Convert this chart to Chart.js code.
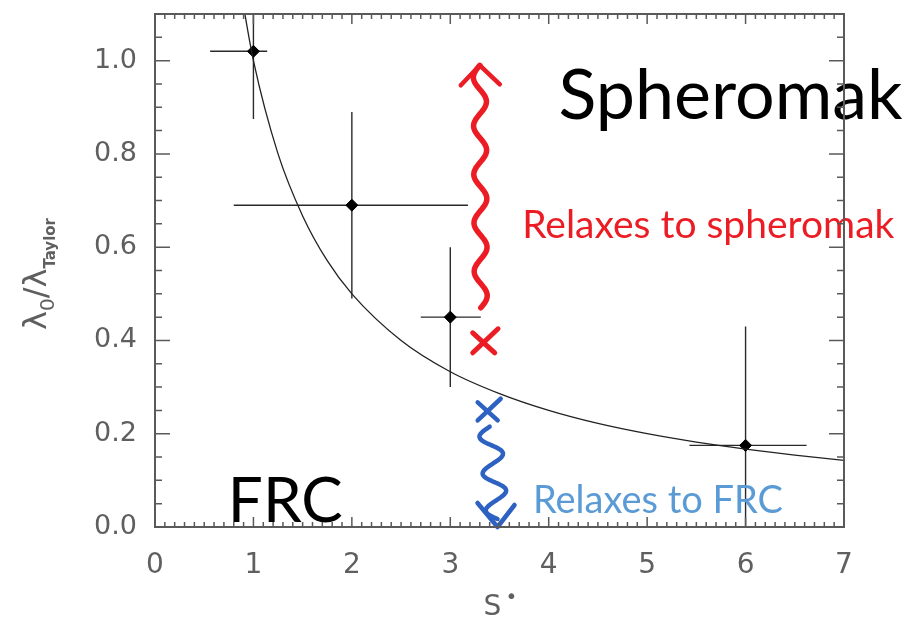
<!DOCTYPE html>
<html>
<head>
<meta charset="utf-8">
<script src="https://cdn.jsdelivr.net/npm/chart.js@4.4.0/dist/chart.umd.min.js"></script>
<style>
  html, body { margin: 0; padding: 0; background: #fff; }
</style>
</head>
<body>
<canvas id="relaxChart" width="909" height="621"></canvas>
<script>
// measured points with their error ranges
const sStar = [1, 2, 3, 6];
const lambdaRatio = [1.02, 0.69, 0.45, 0.175];
const sStarLow = [0.56, 0.80, 2.70, 5.43];
const sStarHigh = [1.14, 3.18, 3.31, 6.62];
const ratioLow = [0.875, 0.49, 0.30, -0.10];
const ratioHigh = [1.165, 0.89, 0.60, 0.43];

// model curve
const curveS = [0.88, 1.0, 1.25, 1.5, 1.75, 2.0, 2.5, 3.0, 3.5, 4.0, 4.5, 5.0, 5.5, 6.0, 6.5, 7.0];
const curveRatio = [1.14, 1.0, 0.80, 0.667, 0.571, 0.50, 0.40, 0.333, 0.286, 0.25, 0.222, 0.20, 0.182, 0.167, 0.154, 0.143];

const xTicks = [0, 1, 2, 3, 4, 5, 6, 7];
const yTicks = [0.0, 0.2, 0.4, 0.6, 0.8, 1.0];

const RED = '#ec1c24';
const BLUE = '#2e62c2';
const LIGHT_BLUE = '#5b9bd5';
const AXIS = '#5a5a5a';

function px(chart, x, y) {
    return [chart.scales.x.getPixelForValue(x), chart.scales.y.getPixelForValue(y)];
}

// error bars under the markers
const errorBars = {
    id: 'errorBars',
    beforeDatasetsDraw(chart) {
        const ctx = chart.ctx, a = chart.chartArea;
        ctx.save();
        ctx.beginPath();
        ctx.rect(a.left, a.top, a.right - a.left, a.bottom - a.top);
        ctx.clip();
        ctx.strokeStyle = '#2a2a2a';
        ctx.lineWidth = 1.4;
        for (let i = 0; i < sStar.length; i++) {
            const [x0, y0] = px(chart, sStarLow[i], lambdaRatio[i]);
            const [x1] = px(chart, sStarHigh[i], lambdaRatio[i]);
            const [xc, yLo] = px(chart, sStar[i], ratioLow[i]);
            const [, yHi] = px(chart, sStar[i], ratioHigh[i]);
            ctx.beginPath();
            ctx.moveTo(x0, y0); ctx.lineTo(x1, y0);
            ctx.moveTo(xc, yLo); ctx.lineTo(xc, yHi);
            ctx.stroke();
        }
        ctx.restore();
    }
};

// wavy hand-drawn stroke between two points in data space
function squiggle(ctx, p0, p1, amp, waves) {
    const dx = p1[0] - p0[0], dy = p1[1] - p0[1];
    const len = Math.hypot(dx, dy);
    const nx = -dy / len, ny = dx / len;
    ctx.beginPath();
    for (let k = 0; k <= 120; k++) {
        const t = k / 120;
        const off = amp * Math.sin(t * waves * 2 * Math.PI);
        const x = p0[0] + dx * t + nx * off;
        const y = p0[1] + dy * t + ny * off;
        if (k === 0) ctx.moveTo(x, y); else ctx.lineTo(x, y);
    }
    ctx.stroke();
}

function cross(ctx, c, w, h) {
    ctx.beginPath();
    ctx.moveTo(c[0] - w, c[1] - h); ctx.lineTo(c[0] + w, c[1] + h);
    ctx.moveTo(c[0] + w * 1.3, c[1] - h * 1.4); ctx.lineTo(c[0] - w, c[1] + h);
    ctx.stroke();
}

const annotations = {
    id: 'annotations',
    afterDatasetsDraw(chart) {
        const ctx = chart.ctx;
        ctx.save();
        ctx.lineCap = 'round';
        ctx.lineJoin = 'round';

        // red: relaxes upward to spheromak
        ctx.strokeStyle = RED;
        ctx.lineWidth = 5.5;
        const rTop = px(chart, 3.30, 0.99);
        const rBot = px(chart, 3.31, 0.47);
        squiggle(ctx, rBot, rTop, 6.5, 5);
        ctx.lineWidth = 4.5;
        ctx.beginPath();
        ctx.moveTo(rTop[0] - 19, rTop[1] + 20);
        ctx.lineTo(rTop[0], rTop[1]);
        ctx.lineTo(rTop[0] + 20, rTop[1] + 19);
        ctx.stroke();
        ctx.lineWidth = 5;
        cross(ctx, px(chart, 3.34, 0.395), 11, 10);

        // blue: relaxes downward to FRC
        ctx.strokeStyle = BLUE;
        ctx.lineWidth = 4.5;
        cross(ctx, px(chart, 3.38, 0.248), 10, 9);
        const bTop = px(chart, 3.40, 0.215);
        const bTip = px(chart, 3.48, 0.0);
        squiggle(ctx, bTop, [bTip[0], bTip[1] - 8], 11, 2.5);
        ctx.beginPath();
        ctx.moveTo(bTip[0] - 20, bTip[1] - 24);
        ctx.lineTo(bTip[0], bTip[1]);
        ctx.lineTo(bTip[0] + 17, bTip[1] - 22);
        ctx.stroke();

        // labels
        ctx.textBaseline = 'alphabetic';
        ctx.textAlign = 'left';
        ctx.fillStyle = '#000';
        ctx.font = '70px Lato, "Open Sans", sans-serif';
        let p = px(chart, 4.10, 0.875);
        ctx.fillText('Spheromak', p[0], p[1]);
        ctx.font = '62px Lato, "Open Sans", sans-serif';
        p = px(chart, 0.74, 0.01);
        ctx.fillText('FRC', p[0], p[1]);

        ctx.font = '39px Lato, "Open Sans", sans-serif';
        ctx.fillStyle = RED;
        p = px(chart, 3.73, 0.62);
        ctx.fillText('Relaxes to spheromak', p[0], p[1]);
        ctx.font = '38px Lato, "Open Sans", sans-serif';
        ctx.fillStyle = LIGHT_BLUE;
        p = px(chart, 3.84, 0.03);
        ctx.fillText('Relaxes to FRC', p[0], p[1]);
        ctx.restore();
    }
};

// boxed frame with inward major and minor ticks, plus axis titles
const frameTicks = {
    id: 'frameTicks',
    afterDraw(chart) {
        const ctx = chart.ctx, a = chart.chartArea;
        const xs = chart.scales.x, ys = chart.scales.y;
        ctx.save();
        ctx.strokeStyle = AXIS;
        ctx.lineWidth = 2;
        ctx.strokeRect(a.left, a.top, a.right - a.left, a.bottom - a.top);
        ctx.lineWidth = 1.5;
        ctx.beginPath();
        for (let i = 0; i <= 70; i++) {
            const x = xs.getPixelForValue(i / 10);
            const len = i % 10 === 0 ? 10 : 5;
            ctx.moveTo(x, a.bottom); ctx.lineTo(x, a.bottom - len);
            ctx.moveTo(x, a.top); ctx.lineTo(x, a.top + len);
        }
        for (let j = 0; j <= 22; j++) {
            const y = ys.getPixelForValue(j * 0.05);
            const len = j % 4 === 0 ? 15 : 7;
            ctx.moveTo(a.left, y); ctx.lineTo(a.left + len, y);
            ctx.moveTo(a.right, y); ctx.lineTo(a.right - len, y);
        }
        ctx.stroke();

        // x title: S*
        ctx.fillStyle = '#5f5f5f';
        ctx.textBaseline = 'alphabetic';
        ctx.textAlign = 'left';
        ctx.font = '28px "DejaVu Sans", sans-serif';
        const sx = (a.left + a.right) / 2 - 16;
        ctx.fillText('S', sx, 615);
        ctx.font = '20px "DejaVu Sans", sans-serif';
        ctx.fillText('\u2022', sx + 22, 603);

        // y title: lambda_0 / lambda_Taylor
        ctx.translate(46, 274);
        ctx.rotate(-Math.PI / 2);
        const parts = [
            ['\u03bb', '32px', 0],
            ['0', '20px', 8],
            ['/', '32px', 0],
            ['\u03bb', '32px', 0],
            ['Taylor', 'bold 15px', 9]
        ];
        let total = 0;
        for (const [t, f] of parts) {
            ctx.font = f + ' "DejaVu Sans", sans-serif';
            total += ctx.measureText(t).width;
        }
        let cx = -total / 2;
        for (const [t, f, dy] of parts) {
            ctx.font = f + ' "DejaVu Sans", sans-serif';
            ctx.fillText(t, cx, dy);
            cx += ctx.measureText(t).width;
        }
        ctx.restore();
    }
};

const ctx = document.getElementById('relaxChart').getContext('2d');
new Chart(ctx, {
    type: 'scatter',
    data: {
        datasets: [
            {
                label: 'fit',
                type: 'line',
                data: curveS.map((s, i) => ({ x: s, y: curveRatio[i] })),
                borderColor: '#222',
                borderWidth: 1.3,
                pointRadius: 0,
                tension: 0.4,
                cubicInterpolationMode: 'monotone',
                fill: false
            },
            {
                label: 'measured',
                data: sStar.map((s, i) => ({ x: s, y: lambdaRatio[i] })),
                pointStyle: 'rectRot',
                pointRadius: 6,
                backgroundColor: '#000',
                borderColor: '#000',
                borderWidth: 1
            }
        ]
    },
    options: {
        responsive: false,
        animation: false,
        layout: { padding: { left: 0, right: 65, top: 14, bottom: 0 } },
        plugins: {
            legend: { display: false },
            tooltip: { enabled: false }
        },
        scales: {
            x: {
                type: 'linear',
                min: 0,
                max: 7,
                afterFit(scale) {
                    scale.height = 94;
                    scale.paddingLeft = 0;
                    scale.paddingRight = 0;
                },
                afterBuildTicks(scale) { scale.ticks = xTicks.map(v => ({ value: v })); },
                grid: { display: false, drawTicks: false },
                border: { display: false },
                ticks: {
                    padding: 22,
                    color: '#5f5f5f',
                    font: { family: '"DejaVu Sans", sans-serif', size: 28 },
                    callback: v => String(v)
                }
            },
            y: {
                type: 'linear',
                min: 0,
                max: 1.1,
                afterFit(scale) {
                    scale.width = 155;
                    scale.paddingTop = 0;
                    scale.paddingBottom = 0;
                },
                afterBuildTicks(scale) { scale.ticks = yTicks.map(v => ({ value: v })); },
                grid: { display: false, drawTicks: false },
                border: { display: false },
                ticks: {
                    padding: 18,
                    color: '#5f5f5f',
                    font: { family: '"DejaVu Sans", sans-serif', size: 27 },
                    callback: v => v.toFixed(1)
                }
            }
        }
    },
    plugins: [errorBars, annotations, frameTicks]
});
</script>
</body>
</html>
